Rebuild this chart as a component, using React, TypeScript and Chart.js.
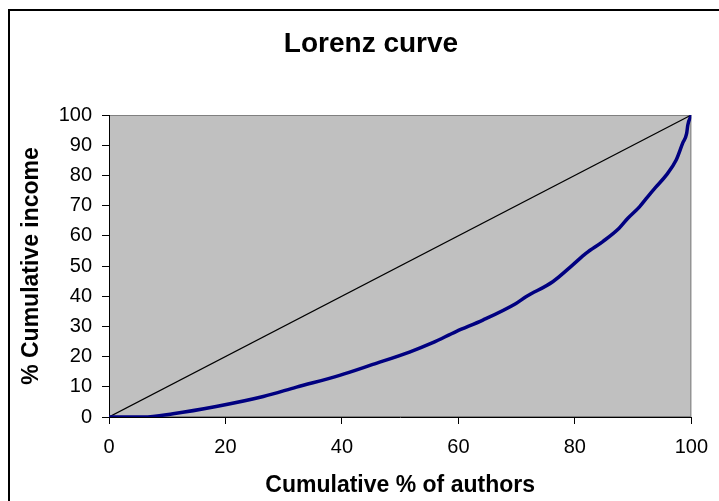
import React, { useEffect, useRef } from "react";
import { Chart, registerables } from "chart.js";

Chart.register(...registerables);

const chartTitle = "Lorenz curve";
const xAxisTitle = "Cumulative % of authors";
const yAxisTitle = "% Cumulative income";

const authorsPct = [0, 5.9, 11, 18.4, 26.5, 32.2, 39.6, 45.3, 51.6, 55.6, 59.6, 64.2, 69.9, 71.6, 76.2, 79.6, 81.9, 84.8, 87.6, 89.1, 91.1, 92.5, 93.9, 95.7, 97.4, 98.5, 99.2, 99.4, 100];
const incomePct = [0, 0, 1.1, 3.5, 6.8, 9.9, 13.8, 17.4, 21.5, 24.6, 28.3, 32.1, 37.6, 39.8, 44.8, 50.3, 54.2, 58.1, 62.5, 65.8, 69.6, 72.9, 76.1, 80.1, 85.1, 90.6, 93.9, 96.7, 100];
const equalityX = [0, 100];
const equalityY = [0, 100];

const FONT = "'Liberation Sans', Arial, sans-serif";

const backgroundPlugin = {
  id: "excelBackground",
  beforeDraw(chart: any) {
    const { ctx, chartArea, width, height } = chart;
    ctx.save();
    ctx.fillStyle = "#ffffff";
    ctx.fillRect(0, 0, width, height);
    ctx.strokeStyle = "#000000";
    ctx.lineWidth = 2;
    ctx.strokeRect(9, 10, width + 20, height + 20);
    ctx.fillStyle = "#C0C0C0";
    ctx.fillRect(chartArea.left, chartArea.top, chartArea.right - chartArea.left, chartArea.bottom - chartArea.top);
    ctx.strokeStyle = "#808080";
    ctx.lineWidth = 1;
    ctx.strokeRect(chartArea.left + 0.5, chartArea.top + 0.5, chartArea.right - chartArea.left - 1, chartArea.bottom - chartArea.top - 1);
    ctx.restore();
  },
};

export default function App() {
  const canvasRef = useRef<HTMLCanvasElement | null>(null);

  useEffect(() => {
    document.body.style.margin = "0";
    const canvas = canvasRef.current;
    if (!canvas) return;
    const curve = authorsPct.map((x, i) => ({ x, y: incomePct[i] }));
    const diag = equalityX.map((x, i) => ({ x, y: equalityY[i] }));
    const chart = new Chart(canvas, {
      type: "line",
      data: {
        datasets: [
          {
            label: "Lorenz curve",
            data: curve,
            borderColor: "#000080",
            borderWidth: 3.5,
            pointRadius: 0,
            fill: false,
            cubicInterpolationMode: "monotone",
          },
          {
            label: "Equality",
            data: diag,
            borderColor: "#000000",
            borderWidth: 1.2,
            pointRadius: 0,
            fill: false,
            tension: 0,
          },
        ],
      },
      options: {
        animation: false,
        responsive: false,
        devicePixelRatio: 1,
        layout: { padding: { left: 50, right: 27, top: 0, bottom: 0 } },
        plugins: {
          legend: { display: false },
          tooltip: { enabled: false },
          title: {
            display: true,
            text: chartTitle,
            color: "#000000",
            font: { family: FONT, size: 28, weight: "bold" },
            padding: { top: 27, bottom: 54.4 },
          },
        },
        scales: {
          x: {
            type: "linear",
            min: 0,
            max: 100,
            ticks: {
              stepSize: 20,
              color: "#000000",
              font: { family: FONT, size: 20 },
              padding: 11,
              maxRotation: 0,
            },
            grid: {
              display: true,
              drawOnChartArea: false,
              drawTicks: true,
              tickLength: 7,
              color: "#000000",
            },
            border: { display: true, color: "#000000", width: 1 },
            title: {
              display: true,
              text: xAxisTitle,
              color: "#000000",
              font: { family: FONT, size: 23, weight: "bold" },
              padding: { top: 0, bottom: 1.5 },
            },
            afterFit(scale: any) {
              scale.height = 84;
            },
          },
          y: {
            type: "linear",
            min: 0,
            max: 100,
            ticks: {
              stepSize: 10,
              color: "#000000",
              font: { family: FONT, size: 20 },
              padding: 10,
            },
            grid: {
              display: true,
              drawOnChartArea: false,
              drawTicks: true,
              tickLength: 7,
              color: "#000000",
            },
            border: { display: true, color: "#000000", width: 1 },
            title: {
              display: true,
              text: yAxisTitle,
              color: "#000000",
              font: { family: FONT, size: 23, weight: "bold" },
              padding: { top: -31.8, bottom: 0 },
            },
            afterFit(scale: any) {
              scale.width = 59;
            },
          },
        },
      },
      plugins: [backgroundPlugin],
    } as any);
    return () => chart.destroy();
  }, []);

  return (
    <div style={{ width: 719, height: 501 }}>
      <canvas ref={canvasRef} width={719} height={501} style={{ display: "block" }} />
    </div>
  );
}
